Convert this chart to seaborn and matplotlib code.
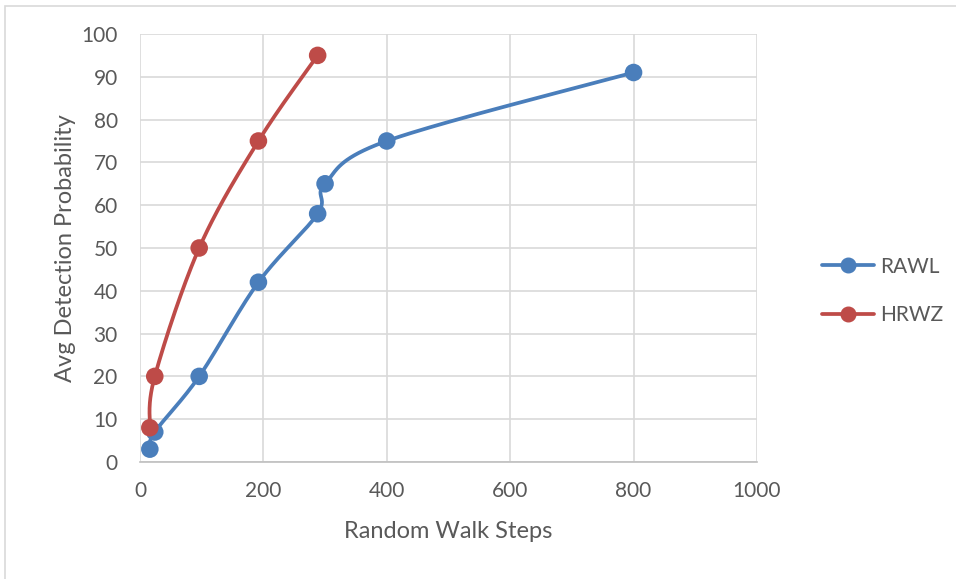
import numpy as np
import pandas as pd
import matplotlib
matplotlib.use("Agg")
import matplotlib.pyplot as plt
from matplotlib.lines import Line2D
from matplotlib.patches import Rectangle
import seaborn as sns

# Series values
rawl_steps = [16, 24, 96, 192, 288, 300, 400, 800]
rawl_prob = [3, 7, 20, 42, 58, 65, 75, 91]
hrwz_steps = [16, 24, 96, 192, 288]
hrwz_prob = [8, 20, 50, 75, 95]

series_names = ["RAWL", "HRWZ"]
series_colors = ["#4A7EBB", "#BE4B48"]
x_ticks = [0, 200, 400, 600, 800, 1000]
y_ticks = list(range(0, 101, 10))


def smooth_path(xs, ys, n=40):
    """Bezier smoothing through every point (spreadsheet-style smoothed line)."""
    P = np.column_stack([xs, ys]).astype(float)
    out = []
    for i in range(len(P) - 1):
        p0 = P[i - 1] if i > 0 else P[i]
        p1, p2 = P[i], P[i + 1]
        p3 = P[i + 2] if i + 2 < len(P) else P[i + 1]
        c1 = p1 + (p2 - p0) / 6.0
        c2 = p2 - (p3 - p1) / 6.0
        t = np.linspace(0, 1, n)[:, None]
        seg = ((1 - t) ** 3) * p1 + 3 * ((1 - t) ** 2) * t * c1 \
            + 3 * (1 - t) * t ** 2 * c2 + t ** 3 * p2
        out.append(seg if i == 0 else seg[1:])
    pts = np.vstack(out)
    return pts[:, 0], pts[:, 1]


sns.set_theme(style="white")
plt.rcParams["font.family"] = ["Lato", "DejaVu Sans"]

fig = plt.figure(figsize=(9.56, 5.79), dpi=100)
ax = fig.add_axes([0.1464, 0.2021, 0.7918 - 0.1464, 0.9413 - 0.2021])

# outer chart frame
fig.patches.append(Rectangle((0.005, -0.1), 1.2, 1.09, transform=fig.transFigure,
                             fill=False, edgecolor="#D9D9D9", linewidth=1.2))

data = pd.concat([
    pd.DataFrame({"steps": rawl_steps, "prob": rawl_prob, "series": "RAWL"}),
    pd.DataFrame({"steps": hrwz_steps, "prob": hrwz_prob, "series": "HRWZ"}),
])

for name, color in zip(series_names, series_colors):
    sub = data[data["series"] == name]
    sx, sy = smooth_path(sub["steps"].values, sub["prob"].values)
    ax.plot(sx, sy, color=color, linewidth=2.7, solid_capstyle="round", zorder=3)

sns.scatterplot(data=data, x="steps", y="prob", hue="series",
                palette=dict(zip(series_names, series_colors)),
                s=160, edgecolor="none", ax=ax, zorder=4, legend=False)

ax.set_xlim(0, 1000)
ax.set_ylim(0, 100)
ax.set_xticks(x_ticks)
ax.set_yticks(y_ticks)
ax.grid(True, color="#D9D9D9", linewidth=1.2)
ax.set_axisbelow(True)
for side in ["top", "right", "left"]:
    ax.spines[side].set_visible(False)
ax.spines["bottom"].set_color("#BFBFBF")
ax.spines["bottom"].set_linewidth(1.2)
ax.tick_params(axis="y", length=0, labelsize=15, labelcolor="#595959", pad=16)
ax.tick_params(axis="x", length=0, labelsize=15, labelcolor="#595959", pad=14)

ax.set_xlabel("Random Walk Steps", fontsize=17, color="#595959", labelpad=14)
ax.set_ylabel("Avg Detection Probability", fontsize=17, color="#595959", labelpad=4)

handles = [Line2D([0], [0], color=c, linewidth=2.7, marker="o", markersize=10.5)
           for c in series_colors]
leg = ax.legend(handles, series_names, loc="center left", bbox_to_anchor=(1.075, 0.40),
                frameon=False, fontsize=15, handlelength=2.5, labelspacing=1.35,
                handletextpad=0.3)
for t in leg.get_texts():
    t.set_color("#595959")

fig.savefig("out.png", dpi=100)
